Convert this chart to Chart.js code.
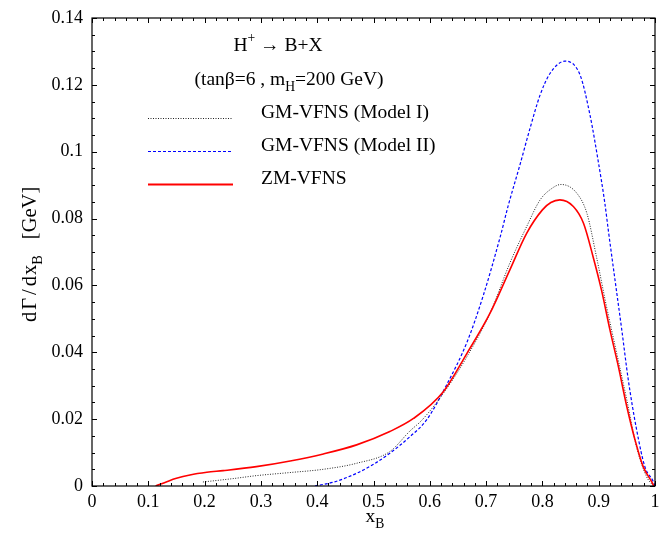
<!DOCTYPE html>
<html>
<head>
<meta charset="utf-8">
<script src="https://cdn.jsdelivr.net/npm/chart.js@4.4.1/dist/chart.umd.min.js"></script>
<style>
  html, body { margin: 0; padding: 0; background: #fff; }
  #wrap { width: 665px; height: 536px; }
</style>
</head>
<body>
<div id="wrap"><canvas id="chart" width="665" height="536"></canvas></div>
<script>
// axis ticks
const xTicks = [0, 0.1, 0.2, 0.3, 0.4, 0.5, 0.6, 0.7, 0.8, 0.9, 1];
const xTickLabels = ['0', '0.1', '0.2', '0.3', '0.4', '0.5', '0.6', '0.7', '0.8', '0.9', '1'];
const yTicks = [0, 0.02, 0.04, 0.06, 0.08, 0.1, 0.12, 0.14];
const yTickLabels = ['0', '0.02', '0.04', '0.06', '0.08', '0.1', '0.12', '0.14'];

// ZM-VFNS (solid red)
const zmX = [0.113, 0.133, 0.150, 0.174, 0.204, 0.233, 0.292, 0.352, 0.411, 0.47, 0.529, 0.571, 0.624, 0.666, 0.707, 0.742, 0.772, 0.80, 0.815, 0.831, 0.855, 0.873, 0.89, 0.905, 0.92, 0.935, 0.95, 0.9645, 0.979, 0.994, 0.998];
const zmY = [0, 0.0013, 0.0023, 0.0033, 0.0041, 0.0046, 0.0058, 0.0075, 0.0096, 0.0123, 0.0163, 0.0202, 0.0282, 0.0397, 0.0517, 0.0646, 0.0756, 0.0826, 0.0848, 0.0856, 0.0836, 0.0786, 0.0686, 0.0586, 0.0467, 0.0357, 0.0237, 0.0138, 0.0058, 0.0013, 0];

// GM-VFNS Model I (dotted black)
const gm1X = [0.197, 0.25, 0.292, 0.35, 0.411, 0.47, 0.529, 0.565, 0.586, 0.624, 0.666, 0.707, 0.742, 0.772, 0.796, 0.815, 0.833, 0.861, 0.879, 0.896, 0.914, 0.932, 0.95, 0.967, 0.985, 0.997];
const gm1Y = [0.0012, 0.0022, 0.0031, 0.004, 0.005, 0.0068, 0.0103, 0.0165, 0.0197, 0.0277, 0.0387, 0.0517, 0.0666, 0.0776, 0.0856, 0.0888, 0.0902, 0.0876, 0.0816, 0.0686, 0.0536, 0.0397, 0.0257, 0.0118, 0.0028, 0];

// GM-VFNS Model II (dashed blue)
const gm2X = [0.396, 0.43, 0.47, 0.50, 0.529, 0.565, 0.594, 0.63, 0.666, 0.695, 0.725, 0.7395, 0.76, 0.778, 0.796, 0.8135, 0.84, 0.867, 0.8845, 0.8993, 0.911, 0.917, 0.929, 0.941, 0.9526, 0.9674, 0.982, 0.997, 1.0];
const gm2Y = [0, 0.0012, 0.0038, 0.0065, 0.0098, 0.0148, 0.0197, 0.0303, 0.043, 0.057, 0.0745, 0.084, 0.096, 0.107, 0.117, 0.1234, 0.1271, 0.1229, 0.111, 0.097, 0.0845, 0.0766, 0.0616, 0.0467, 0.0317, 0.0168, 0.0058, 0.0013, 0];

const FONT = '"Liberation Serif", "Times New Roman", serif';

const toPoints = (xs, ys) => xs.map((x, i) => ({ x, y: ys[i] }));

const styles = {
  zm: { color: '#ff0000', width: 1.6, dash: [] },
  gm1: { color: '#222222', width: 1, dash: [1, 1.5] },
  gm2: { color: '#0000ff', width: 1.2, dash: [3, 2] }
};

// draw text made of pieces, some of them sub/superscript
function richWidth(ctx, segs, size) {
  let w = 0;
  segs.forEach(s => {
    if (s.gap) { w += s.gap; return; }
    const sz = s.sub || s.sup ? size * 0.7 : size;
    ctx.font = sz + 'px ' + FONT;
    w += ctx.measureText(s.t).width;
  });
  return w;
}

function drawRich(ctx, segs, x, y, size, align) {
  let cx = align === 'center' ? x - richWidth(ctx, segs, size) / 2 : x;
  ctx.textAlign = 'left';
  ctx.textBaseline = 'alphabetic';
  ctx.fillStyle = '#000';
  segs.forEach(s => {
    if (s.gap) { cx += s.gap; return; }
    const sz = s.sub || s.sup ? size * 0.7 : size;
    ctx.font = sz + 'px ' + FONT;
    let dy = 0;
    if (s.sub) dy = size * 0.3;
    if (s.sup) dy = -size * 0.45;
    ctx.fillText(s.t, cx, y + dy);
    cx += ctx.measureText(s.t).width;
  });
}

const framePlugin = {
  id: 'frame',
  afterDatasetsDraw(chart) {
    const { ctx, chartArea: a, scales: { x, y } } = chart;
    ctx.save();
    ctx.strokeStyle = '#000';
    ctx.lineWidth = 1.2;
    ctx.setLineDash([]);
    ctx.strokeRect(a.left, a.top, a.right - a.left, a.bottom - a.top);

    ctx.lineWidth = 1;
    ctx.beginPath();
    for (let i = 0; i <= 50; i++) {
      const v = i * 0.02;
      const px = Math.round(x.getPixelForValue(v)) + 0.5;
      const len = i % 5 === 0 ? 5 : 3;
      ctx.moveTo(px, a.bottom); ctx.lineTo(px, a.bottom - len);
      ctx.moveTo(px, a.top); ctx.lineTo(px, a.top + len);
    }
    for (let i = 0; i <= 28; i++) {
      const v = i * 0.005;
      const py = Math.round(y.getPixelForValue(v)) + 0.5;
      const len = i % 4 === 0 ? 5 : 3;
      ctx.moveTo(a.left, py); ctx.lineTo(a.left + len, py);
      ctx.moveTo(a.right, py); ctx.lineTo(a.right - len, py);
    }
    ctx.stroke();

    // legend block
    drawRich(ctx, [{ t: 'H' }, { t: '+', sup: true }, { t: ' \u2192 B+X' }], 278, 51, 19.5, 'center');
    drawRich(ctx, [{ t: '(tan\u03b2=6 , m' }, { t: 'H', sub: true }, { t: '=200 GeV)' }], 289, 85, 19.5, 'center');

    const rows = [
      { key: 'gm1', label: 'GM-VFNS (Model I)', y: 118.5 },
      { key: 'gm2', label: 'GM-VFNS (Model II)', y: 151.5 },
      { key: 'zm', label: 'ZM-VFNS', y: 184.5 }
    ];
    rows.forEach(r => {
      const s = styles[r.key];
      ctx.save();
      ctx.strokeStyle = s.color;
      ctx.lineWidth = r.key === 'zm' ? 2 : 1.2;
      ctx.setLineDash(s.dash);
      ctx.beginPath();
      ctx.moveTo(148, r.y);
      ctx.lineTo(233, r.y);
      ctx.stroke();
      ctx.restore();
      drawRich(ctx, [{ t: r.label }], 261, Math.floor(r.y), 19.5, 'left');
    });

    // axis titles
    drawRich(ctx, [{ t: 'x' }, { t: 'B', sub: true }], 375, 522, 19.5, 'center');
    ctx.translate(36, 322);
    ctx.rotate(-Math.PI / 2);
    drawRich(ctx, [
      { t: 'd' }, { gap: 2 }, { t: '\u0393' }, { gap: 3 }, { t: '/' }, { gap: 3 }, { t: 'd' }, { gap: 1 }, { t: 'x' },
      { t: 'B', sub: true }, { gap: 16 }, { t: '[GeV]' }
    ], 0, 0, 20.5, 'left');
    ctx.restore();
  }
};

const ctx = document.getElementById('chart').getContext('2d');
new Chart(ctx, {
  type: 'line',
  data: {
    datasets: [
      {
        label: 'ZM-VFNS',
        data: toPoints(zmX, zmY),
        borderColor: styles.zm.color,
        borderWidth: styles.zm.width,
        pointRadius: 0,
        cubicInterpolationMode: 'monotone',
        fill: false
      },
      {
        label: 'GM-VFNS (Model I)',
        data: toPoints(gm1X, gm1Y),
        borderColor: styles.gm1.color,
        borderWidth: styles.gm1.width,
        borderDash: styles.gm1.dash,
        pointRadius: 0,
        cubicInterpolationMode: 'monotone',
        fill: false
      },
      {
        label: 'GM-VFNS (Model II)',
        data: toPoints(gm2X, gm2Y),
        borderColor: styles.gm2.color,
        borderWidth: styles.gm2.width,
        borderDash: styles.gm2.dash,
        pointRadius: 0,
        cubicInterpolationMode: 'monotone',
        fill: false
      }
    ]
  },
  options: {
    responsive: false,
    animation: false,
    layout: { padding: { top: 18, right: 10, left: 0, bottom: 0 } },
    plugins: {
      legend: { display: false },
      tooltip: { enabled: false }
    },
    scales: {
      x: {
        type: 'linear',
        min: 0,
        max: 1,
        grid: { display: false, drawTicks: false },
        border: { display: false },
        afterBuildTicks: s => { s.ticks = xTicks.map(v => ({ value: v })); },
        afterFit: s => { s.height = 50; s.paddingLeft = 0; s.paddingRight = 0; },
        ticks: {
          callback: (v, i) => xTickLabels[i],
          font: { family: FONT, size: 18 },
          color: '#000',
          padding: 5,
          maxRotation: 0,
          autoSkip: false
        }
      },
      y: {
        type: 'linear',
        min: 0,
        max: 0.14,
        grid: { display: false, drawTicks: false },
        border: { display: false },
        afterBuildTicks: s => { s.ticks = yTicks.map(v => ({ value: v })); },
        afterFit: s => { s.width = 92; s.paddingTop = 0; s.paddingBottom = 0; },
        ticks: {
          callback: (v, i) => yTickLabels[i],
          font: { family: FONT, size: 18 },
          color: '#000',
          padding: 9,
          autoSkip: false
        }
      }
    }
  },
  plugins: [framePlugin]
});
</script>
</body>
</html>
